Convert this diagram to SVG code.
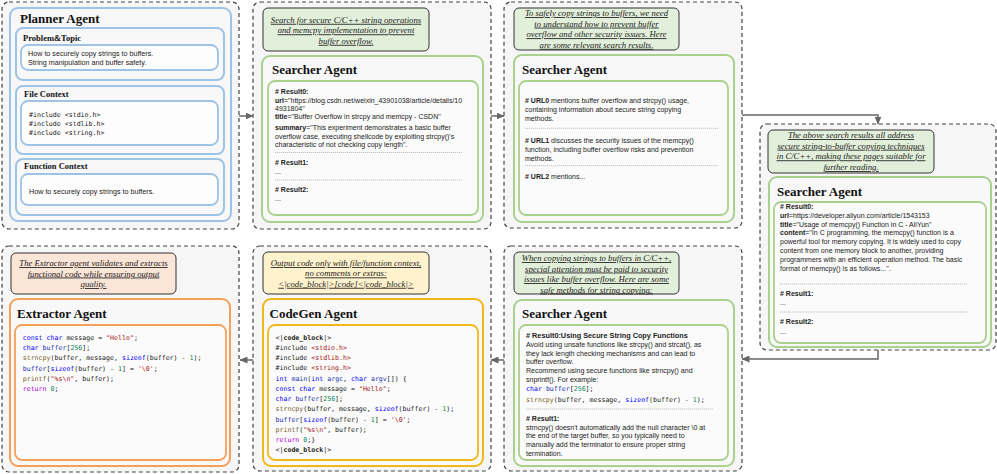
<svg xmlns="http://www.w3.org/2000/svg" width="997" height="474" viewBox="0 0 997 474">
<defs>
<marker id="ah" markerUnits="userSpaceOnUse" markerWidth="8" markerHeight="7" refX="7.5" refY="3.5" orient="auto">
<path d="M0,0 L8,3.5 L0,7 z" fill="#666"/>
</marker>
<style>
.outer{fill:#f6f6f6;stroke:#444;stroke-width:1.2;stroke-dasharray:4 3}
.blue{fill:#f8f8f8;stroke:#9dc3e6;stroke-width:2}
.bluein{fill:#fdfdfd;stroke:#9dc3e6;stroke-width:1.8}
.green{fill:#f8f8f8;stroke:#a9d18e;stroke-width:2}
.greenin{fill:#fbfbfb;stroke:#a9d18e;stroke-width:1.8}
.gold{fill:#f8f8f8;stroke:#f2b81a;stroke-width:2}
.goldin{fill:#fbfbfb;stroke:#f2b81a;stroke-width:1.8}
.orange{fill:#f8f8f8;stroke:#f4a05a;stroke-width:2}
.orangein{fill:#fbfbfb;stroke:#f4a05a;stroke-width:1.8}
.note{stroke:#333;stroke-width:1}
.ng{fill:#e2efda}
.ny{fill:#fff2cc}
.no{fill:#fbe5d6}
.title{font-family:"Liberation Serif",serif;font-weight:bold;font-size:13px;fill:#111}
.sub{font-family:"Liberation Serif",serif;font-weight:bold;font-size:8.5px;fill:#111}
.nt{font-family:"Liberation Serif",serif;font-style:italic;font-size:8.7px;text-anchor:middle;text-decoration:underline;fill:#222}
.tx{font-family:"Liberation Sans",Arial,sans-serif;font-size:7px;fill:#222}
.pt{font-family:"Liberation Sans",Arial,sans-serif;font-size:7.2px;fill:#222}
.b{font-weight:bold}
.code{font-family:"DejaVu Sans Mono",monospace;font-size:6.6px;fill:#222}
.kw{fill:#0000ff}
.vr{fill:#1a2fb0}
.st{fill:#a31515}
.nm{fill:#098658}
.fn{fill:#795e26}
.rt{fill:#af00db}
.sep{stroke:#999;stroke-width:0.6;stroke-dasharray:1.2 0.8}
.conn{fill:none;stroke:#666;stroke-width:1.5;marker-end:url(#ah)}
</style>
</defs>
<rect width="997" height="474" fill="#fff"/>

<g id="planner">
<rect class="outer" x="2" y="2" width="237" height="227" rx="7"/>
<rect class="blue" x="10" y="8" width="221" height="213" rx="8"/>
<text class="title" x="20" y="23">Planner Agent</text>
<rect class="blue" x="16" y="28" width="208" height="52" rx="7"/>
<text class="sub" x="23" y="40.5">Problem&amp;Topic</text>
<rect class="bluein" x="21" y="45" width="197" height="25" rx="7"/>
<text class="pt" x="28" y="56">How to securely copy strings to buffers.</text>
<text class="pt" x="28" y="65">String manipulation and buffer safety.</text>
<rect class="blue" x="16" y="86" width="208" height="68" rx="7"/>
<text class="sub" x="24" y="97">File Context</text>
<rect class="bluein" x="21" y="101" width="197" height="44" rx="7"/>
<text class="code" x="29" y="117">#include &lt;stdio.h&gt;</text>
<text class="code" x="29" y="126">#include &lt;stdlib.h&gt;</text>
<text class="code" x="29" y="134.7">#include &lt;string.h&gt;</text>
<rect class="blue" x="16" y="159" width="208" height="56" rx="7"/>
<text class="sub" x="24" y="168.5">Function Context</text>
<rect class="bluein" x="21" y="174" width="197" height="31" rx="7"/>
<text class="pt" x="29" y="193.5">How to securely copy strings to buffers.</text>
</g>

<g id="searcher1">
<rect class="outer" x="253" y="2" width="238" height="227" rx="7"/>
<rect class="note ng" x="263" y="8" width="166" height="43" rx="5"/>
<text class="nt" x="346" y="22.8">Search for secure C/C++ string operations</text>
<text class="nt" x="346" y="33.3">and memcpy implementation to prevent</text>
<text class="nt" x="346" y="43.8">buffer overflow.</text>
<rect class="green" x="262" y="56" width="221" height="166" rx="8"/>
<text class="title" x="272" y="74">Searcher Agent</text>
<rect class="greenin" x="268" y="81" width="210" height="134" rx="7"/>
<text class="tx b" x="275" y="93.5"># Result0:</text>
<text class="tx" x="275" y="102.5"><tspan class="b">url</tspan>="https://blog.csdn.net/weixin_43901038/article/details/10</text>
<text class="tx" x="275" y="110.8">4931804"</text>
<text class="tx" x="275" y="119.2"><tspan class="b">title</tspan>="Buffer Overflow in strcpy and memcpy - CSDN"</text>
<text class="tx" x="275" y="129.5"><tspan class="b">summary</tspan>="This experiment demonstrates a basic buffer</text>
<text class="tx" x="275" y="138.5">overflow case, executing shellcode by exploiting strcpy()'s</text>
<text class="tx" x="275" y="147.2">characteristic of not checking copy length".</text>
<line class="sep" x1="275" y1="152.5" x2="462" y2="152.5"/>
<text class="tx b" x="275" y="164.5"># Result1:</text>
<text class="tx" x="275" y="173.5">...</text>
<line class="sep" x1="275" y1="180" x2="462" y2="180"/>
<text class="tx b" x="275" y="191.8"># Result2:</text>
<text class="tx" x="275" y="200.5">...</text>
</g>

<g id="searcher2">
<rect class="outer" x="504" y="2" width="238" height="226" rx="7"/>
<rect class="note ng" x="514" y="8" width="165" height="42" rx="5"/>
<text class="nt" x="596.5" y="16">To safely copy strings to buffers, we need</text>
<text class="nt" x="596.5" y="26.6">to understand how to prevent buffer</text>
<text class="nt" x="596.5" y="37.2">overflow and other security issues. Here</text>
<text class="nt" x="596.5" y="47.8">are some relevant search results.</text>
<rect class="green" x="514" y="55" width="220" height="167" rx="8"/>
<text class="title" x="522" y="73.5">Searcher Agent</text>
<rect class="greenin" x="519" y="81" width="209" height="134" rx="7"/>
<text class="tx" x="525" y="103"><tspan class="b"># URL0</tspan> mentions buffer overflow and strcpy() usage,</text>
<text class="tx" x="525" y="112">containing information about secure string copying</text>
<text class="tx" x="525" y="121">methods.</text>
<line class="sep" x1="525" y1="128.3" x2="719" y2="128.3"/>
<text class="tx" x="525" y="142.5"><tspan class="b"># URL1</tspan> discusses the security issues of the memcpy()</text>
<text class="tx" x="525" y="151.5">function, including buffer overflow risks and prevention</text>
<text class="tx" x="525" y="160.5">methods.</text>
<line class="sep" x1="525" y1="165.7" x2="719" y2="165.7"/>
<text class="tx" x="525" y="179"><tspan class="b"># URL2</tspan> mentions...</text>
</g>

<g id="searcher3">
<rect class="outer" x="760" y="124" width="236" height="226" rx="7"/>
<rect class="note ng" x="768" y="130" width="166" height="43" rx="5"/>
<text class="nt" x="851" y="138">The above search results all address</text>
<text class="nt" x="851" y="148.7">secure string-to-buffer copying techniques</text>
<text class="nt" x="851" y="159.3">in C/C++, making these pages suitable for</text>
<text class="nt" x="851" y="170">further reading.</text>
<rect class="green" x="769" y="177" width="222" height="170" rx="8"/>
<text class="title" x="777" y="195.7">Searcher Agent</text>
<rect class="greenin" x="774" y="202" width="212" height="141" rx="7"/>
<text class="tx b" x="780" y="208.5"># Result0:</text>
<text class="tx" x="780" y="217.5"><tspan class="b">url</tspan>=https://developer.aliyun.com/article/1543153</text>
<text class="tx" x="780" y="226.5"><tspan class="b">title</tspan>="Usage of memcpy() Function in C - AliYun"</text>
<text class="tx" x="780" y="235.2"><tspan class="b">content</tspan>="In C programming, the memcpy() function is a</text>
<text class="tx" x="780" y="243.8">powerful tool for memory copying. It is widely used to copy</text>
<text class="tx" x="780" y="252.5">content from one memory block to another, providing</text>
<text class="tx" x="780" y="261.5">programmers with an efficient operation method. The basic</text>
<text class="tx" x="780" y="270.8">format of memcpy() is as follows...".</text>
<line class="sep" x1="780" y1="284" x2="967" y2="284"/>
<text class="tx b" x="780" y="295.8"># Result1:</text>
<text class="tx" x="780" y="305">...</text>
<line class="sep" x1="780" y1="312" x2="967" y2="312"/>
<text class="tx b" x="780" y="323.8"># Result2:</text>
<text class="tx" x="780" y="333.5">...</text>
</g>

<g id="searcher4">
<rect class="outer" x="504" y="246" width="238" height="225" rx="7"/>
<rect class="note ng" x="514" y="252" width="165" height="42" rx="5"/>
<text class="nt" x="596.5" y="261">When copying strings to buffers in C/C++,</text>
<text class="nt" x="596.5" y="271.5">special attention must be paid to security</text>
<text class="nt" x="596.5" y="282">issues like buffer overflow. Here are some</text>
<text class="nt" x="596.5" y="292.5">safe methods for string copying:</text>
<rect class="green" x="514" y="300" width="220" height="166" rx="8"/>
<text class="title" x="522" y="317.5">Searcher Agent</text>
<rect class="greenin" x="519" y="325" width="209" height="135" rx="7"/>
<text class="tx b" x="526" y="338.2" style="font-size:7.3px"># Result0:Using Secure String Copy Functions</text>
<text class="tx" x="526" y="347.2">Avoid using unsafe functions like strcpy() and strcat(), as</text>
<text class="tx" x="526" y="355.8">they lack length checking mechanisms and can lead to</text>
<text class="tx" x="526" y="364">buffer overflow.</text>
<text class="tx" x="526" y="372.8">Recommend using secure functions like strncpy() and</text>
<text class="tx" x="526" y="381.5">snprintf(). For example:</text>
<text class="code" x="526" y="391.2"><tspan class="kw">char</tspan> <tspan class="vr">buffer</tspan>[<tspan class="nm">256</tspan>];</text>
<text class="code" x="526" y="402.2"><tspan class="fn">strncpy</tspan>(buffer, message, <tspan class="kw">sizeof</tspan>(buffer) - <tspan class="nm">1</tspan>);</text>
<line class="sep" x1="526" y1="409" x2="713" y2="409"/>
<text class="tx b" x="526" y="420.5"># Result1:</text>
<text class="tx" x="526" y="429.5">strncpy() doesn't automatically add the null character \0 at</text>
<text class="tx" x="526" y="438.2">the end of the target buffer, so you typically need to</text>
<text class="tx" x="526" y="446.8">manually add the terminator to ensure proper string</text>
<text class="tx" x="526" y="455.5">termination.</text>
</g>

<g id="codegen">
<rect class="outer" x="253" y="246" width="238" height="225" rx="7"/>
<rect class="note ny" x="263" y="252" width="166" height="42" rx="5"/>
<text class="nt" x="346" y="266">Output code only with file/function context,</text>
<text class="nt" x="346" y="276.4">no comments or extras:</text>
<text class="nt" x="346" y="286.8">&lt;|code_block|&gt;[code]&lt;|code_block|&gt;</text>
<rect class="gold" x="263" y="299" width="220" height="167" rx="8"/>
<text class="title" x="269.5" y="317.5">CodeGen Agent</text>
<rect class="goldin" x="268" y="325" width="210" height="135" rx="7"/>
<text class="code" x="275.5" y="339.5">&lt;|<tspan class="b">code_block</tspan>|&gt;</text>
<text class="code" x="275.5" y="349.7">#include <tspan class="st">&lt;stdio.h&gt;</tspan></text>
<text class="code" x="275.5" y="360">#include <tspan class="st">&lt;stdlib.h&gt;</tspan></text>
<text class="code" x="275.5" y="370.2"><tspan>#include </tspan><tspan class="st">&lt;string.h&gt;</tspan></text>
<text class="code" x="275.5" y="380.5"><tspan class="kw">int</tspan> <tspan class="vr">main</tspan>(<tspan class="kw">int</tspan> <tspan class="vr">argc</tspan>, <tspan class="kw">char</tspan> <tspan class="vr">argv</tspan>[]) {</text>
<text class="code" x="275.5" y="390.8"><tspan class="kw">const</tspan> <tspan class="kw">char</tspan> message = <tspan class="st">"Hello"</tspan>;</text>
<text class="code" x="275.5" y="401"><tspan class="kw">char</tspan> <tspan class="vr">buffer</tspan>[<tspan class="nm">256</tspan>];</text>
<text class="code" x="275.5" y="411.2"><tspan class="fn">strncpy</tspan>(buffer, message, <tspan class="kw">sizeof</tspan>(buffer) - <tspan class="nm">1</tspan>);</text>
<text class="code" x="275.5" y="421.5"><tspan class="vr">buffer</tspan>[<tspan class="kw">sizeof</tspan>(buffer) - <tspan class="nm">1</tspan>] = <tspan class="st">'\0'</tspan>;</text>
<text class="code" x="275.5" y="431.8"><tspan class="fn">printf</tspan>(<tspan class="st">"%s\n"</tspan>, buffer);</text>
<text class="code" x="275.5" y="442"><tspan class="rt">return</tspan> <tspan class="nm">0</tspan>;}</text>
<text class="code" x="275.5" y="452">&lt;|<tspan class="b">code_block</tspan>|&gt;</text>
</g>

<g id="extractor">
<rect class="outer" x="2" y="246" width="237" height="226" rx="7"/>
<rect class="note no" x="11" y="253" width="165" height="41" rx="5"/>
<text class="nt" x="93.5" y="266">The Extractor agent validates and extracts</text>
<text class="nt" x="93.5" y="276.5">functional code while ensuring output</text>
<text class="nt" x="93.5" y="287">quality.</text>
<rect class="orange" x="10" y="299" width="220" height="167" rx="8"/>
<text class="title" x="17" y="317.5">Extractor Agent</text>
<rect class="orangein" x="15" y="325" width="211" height="135" rx="7"/>
<text class="code" x="22.7" y="339.5"><tspan class="kw">const</tspan> <tspan class="kw">char</tspan> message = <tspan class="st">"Hello"</tspan>;</text>
<text class="code" x="22.7" y="350"><tspan class="kw">char</tspan> <tspan class="vr">buffer</tspan>[<tspan class="nm">256</tspan>];</text>
<text class="code" x="22.7" y="360.2"><tspan class="fn">strncpy</tspan>(buffer, message, <tspan class="kw">sizeof</tspan>(buffer) - <tspan class="nm">1</tspan>);</text>
<text class="code" x="22.7" y="370.5"><tspan class="vr">buffer</tspan>[<tspan class="kw">sizeof</tspan>(buffer) - <tspan class="nm">1</tspan>] = <tspan class="st">'\0'</tspan>;</text>
<text class="code" x="22.7" y="380.7"><tspan class="fn">printf</tspan>(<tspan class="st">"%s\n"</tspan>, buffer);</text>
<text class="code" x="22.7" y="391"><tspan class="rt">return</tspan> <tspan class="nm">0</tspan>;</text>
</g>

<g id="connectors">
<path class="conn" d="M239,116 H253"/>
<path class="conn" d="M491,116 H504"/>
<path class="conn" d="M742,115 H878 V124"/>
<path class="conn" d="M878,350 V359 H742"/>
<path class="conn" d="M504,360 H491"/>
<path class="conn" d="M253,360 H240"/>
</g>
</svg>
